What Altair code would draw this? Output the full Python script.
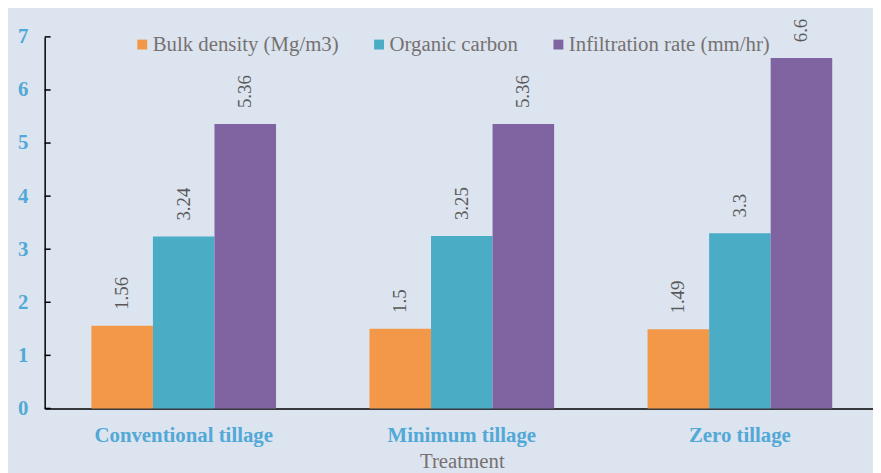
import altair as alt
import pandas as pd

treatments = ["Conventional tillage", "Minimum tillage", "Zero tillage"]
series = ["Bulk density (Mg/m3)", "Organic carbon", "Infiltration rate (mm/hr)"]
bulk_density = [1.56, 1.5, 1.49]
organic_carbon = [3.24, 3.25, 3.3]
infiltration = [5.36, 5.36, 6.6]
labels = [["1.56", "1.5", "1.49"], ["3.24", "3.25", "3.3"], ["5.36", "5.36", "6.6"]]
y_ticks = [0, 1, 2, 3, 4, 5, 6, 7]
colors = ["#F39848", "#4BACC6", "#8064A2"]

SERIF = "'Liberation Serif', 'Times New Roman', 'DejaVu Serif', serif"

rows = []
for si, (s, vals) in enumerate(zip(series, [bulk_density, organic_carbon, infiltration])):
    for ti, t in enumerate(treatments):
        rows.append({"Treatment": t, "Series": s, "Value": vals[ti], "Label": labels[si][ti]})
df = pd.DataFrame(rows)

xscale = alt.Scale(paddingInner=0.336, paddingOuter=0.168, range=[0, 842])
xenc = alt.X("Treatment:N", sort=treatments, scale=xscale,
             axis=alt.Axis(title="Treatment", labelAngle=0, ticks=False,
                           labelFont=SERIF, labelFontSize=21, labelFontWeight="bold",
                           labelColor="#52A8D6", labelPadding=16, labelLimit=400,
                           titleFont=SERIF, titleFontSize=21, titleFontWeight="normal",
                           titleColor="#767171", titlePadding=6,
                           domainColor="#000000", domainWidth=1.5))
yscale = alt.Scale(domain=[0, 7], nice=False)
xoff = alt.XOffset("Series:N", sort=series, scale=alt.Scale(paddingInner=0, paddingOuter=0))

bars = alt.Chart(df).mark_bar().encode(
    x=xenc,
    xOffset=xoff,
    y=alt.Y("Value:Q", scale=yscale,
            axis=alt.Axis(title=None, values=y_ticks, grid=False, ticks=False, format="d",
                          labelFont=SERIF, labelFontSize=21, labelFontWeight="bold",
                          labelColor="#52A8D6", labelPadding=17,
                          domainColor="#000000", domainWidth=1.5)),
    color=alt.Color("Series:N", sort=series,
                    scale=alt.Scale(domain=series, range=colors),
                    legend=alt.Legend(title=None, orient="none", direction="horizontal",
                                      legendX=88, legendY=-3,
                                      symbolType="square", symbolSize=100,
                                      symbolStrokeWidth=0, symbolOpacity=1,
                                      labelFont=SERIF, labelFontSize=21, labelLimit=400,
                                      labelColor="#767171", labelOffset=0,
                                      columnPadding=30)),
)

text = alt.Chart(df).mark_text(angle=270, align="left", baseline="middle", dx=16,
                               font=SERIF, fontSize=19, color="#595959").encode(
    x=alt.X("Treatment:N", sort=treatments, scale=xscale),
    xOffset=xoff,
    y=alt.Y("Value:Q", scale=yscale),
    text="Label:N",
)

tick_df = pd.DataFrame({"v": y_ticks})
yticks = alt.Chart(tick_df).mark_rule(color="#000000", strokeWidth=1.5).encode(
    y=alt.Y("v:Q", scale=yscale),
    x=alt.value(0),
    x2=alt.value(6),
)

chart = alt.layer(bars, text, yticks).properties(
    width=836, height=375,
    autosize=alt.AutoSizeParams(type="none"),
    padding={"left": 37, "top": 27, "right": 0, "bottom": 63},
    background="#DCE4EF",
).configure_view(stroke=None)

chart.save("out.html", embed_options={"renderer": "svg", "actions": False})
